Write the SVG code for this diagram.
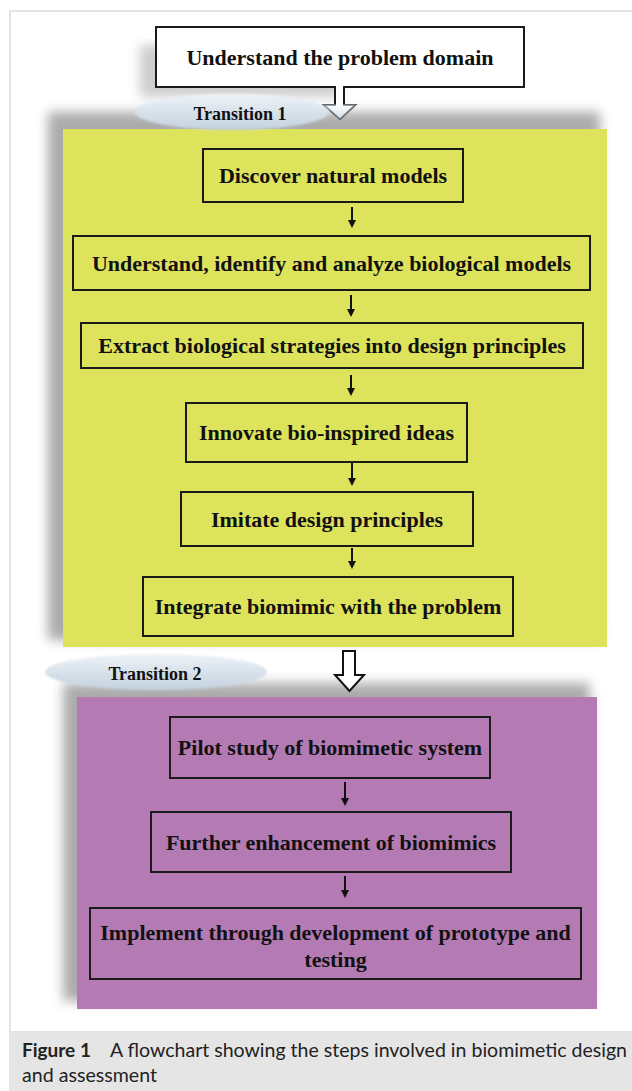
<svg xmlns="http://www.w3.org/2000/svg" width="632" height="1091" viewBox="0 0 632 1091">
<style>
.box{fill:none;stroke:#1a1a1a;stroke-width:2}
.t{font-family:"Liberation Serif","Times New Roman",serif;font-weight:bold;font-size:22px;fill:#111;text-anchor:middle}
.tr{font-size:18px}
.cap{font-family:Lato,"Liberation Sans",sans-serif;font-size:19px;fill:#222}
.conn{stroke:#111;stroke-width:2;fill:none}
.shadow{fill:#8f8f8f;filter:url(#blur)}
</style>
<defs>
<marker id="ah" markerWidth="8" markerHeight="8" refX="4" refY="4" orient="auto" markerUnits="userSpaceOnUse" viewBox="0 0 8 8">
<path d="M0,0 L8,4 L0,8 Z" fill="#111"/>
</marker>
<filter id="blur" x="-10%" y="-10%" width="120%" height="120%"><feGaussianBlur stdDeviation="6"/></filter>
<filter id="soft" x="-10%" y="-30%" width="120%" height="160%"><feGaussianBlur stdDeviation="1.2"/></filter>
<linearGradient id="ell" x1="0" y1="0" x2="0" y2="1">
<stop offset="0" stop-color="#eef3f8"/>
<stop offset="1" stop-color="#c3d1de"/>
</linearGradient>
<linearGradient id="head" x1="0" y1="0" x2="0" y2="1">
<stop offset="0" stop-color="#ffffff"/>
<stop offset="1" stop-color="#d3dde7"/>
</linearGradient>
</defs>

<!-- frame and caption -->
<rect x="10" y="11" width="630" height="1021" fill="#ffffff" stroke="#e3e3e3" stroke-width="2"/>
<rect x="9" y="1032" width="623" height="59" fill="#e5e5e5"/>

<!-- panels -->
<g id="panel-yellow">
<rect class="shadow" x="48" y="112" width="552" height="528" opacity="0.75"/>
<rect x="63" y="129" width="544" height="518" fill="#dee35c"/>
</g>
<g id="panel-purple">
<rect class="shadow" x="63" y="683" width="527" height="318" opacity="0.75"/>
<rect x="77" y="697" width="520" height="312" fill="#b47ab3"/>
</g>

<!-- top node -->
<g id="n-problem">
<rect class="shadow" x="140" y="45" width="200" height="52" opacity="0.45"/>
<path d="M156,27 H524 V87 H344 V105 H355 L340,119 L324,105 H335 V87 H156 Z" fill="#ffffff" stroke="#1a1a1a" stroke-width="2"/>
<path d="M324,105 H355 L340,119 Z" fill="url(#head)" stroke="#7a828a" stroke-width="1.5"/>
<rect x="336" y="86" width="7" height="20" fill="#ffffff"/>
<text class="t" x="340" y="65">Understand the problem domain</text>
</g>

<g id="n-transition1">
<ellipse cx="232" cy="112" rx="97" ry="18" fill="url(#ell)" filter="url(#soft)"/>
<text class="t tr" x="240" y="120">Transition 1</text>
</g>

<g id="n-discover">
<rect class="box" x="203" y="149" width="260" height="53"/>
<text class="t" x="333" y="183">Discover natural models</text>
</g>
<g id="n-understand">
<rect class="box" x="73" y="236" width="517" height="54"/>
<text class="t" x="331.5" y="271">Understand, identify and analyze biological models</text>
</g>
<g id="n-extract">
<rect class="box" x="81" y="323" width="502" height="45"/>
<text class="t" x="332" y="353">Extract biological strategies into design principles</text>
</g>
<g id="n-innovate">
<rect class="box" x="186" y="403" width="281" height="59"/>
<text class="t" x="326.5" y="440">Innovate bio-inspired ideas</text>
</g>
<g id="n-imitate">
<rect class="box" x="181" y="492" width="292" height="54"/>
<text class="t" x="327" y="527">Imitate design principles</text>
</g>
<g id="n-integrate">
<rect class="box" x="143" y="577" width="370" height="59"/>
<text class="t" x="328" y="614">Integrate biomimic with the problem</text>
</g>

<g id="n-transition2">
<ellipse cx="156" cy="672" rx="111" ry="18" fill="url(#ell)" filter="url(#soft)"/>
<text class="t tr" x="155" y="680">Transition 2</text>
</g>

<g id="n-pilot">
<rect class="box" x="170" y="717" width="320" height="61"/>
<text class="t" x="330" y="755">Pilot study of biomimetic system</text>
</g>
<g id="n-further">
<rect class="box" x="151" y="812" width="360" height="60"/>
<text class="t" x="331" y="850">Further enhancement of biomimics</text>
</g>
<g id="n-implement">
<rect class="box" x="90" y="908" width="491" height="71"/>
<text class="t" x="335.5" y="940">Implement through development of prototype and</text>
<text class="t" x="335.5" y="967">testing</text>
</g>

<!-- connectors -->
<g id="connectors">
<line class="conn" x1="352" y1="207" x2="352" y2="224" marker-end="url(#ah)"/>
<line class="conn" x1="351" y1="295" x2="351" y2="313" marker-end="url(#ah)"/>
<line class="conn" x1="351" y1="375" x2="351" y2="392" marker-end="url(#ah)"/>
<line class="conn" x1="352" y1="463" x2="352" y2="482" marker-end="url(#ah)"/>
<line class="conn" x1="352" y1="548" x2="352" y2="565" marker-end="url(#ah)"/>
<path d="M343,651 H355 V675 H364 L349.5,691 L335,675 H343 Z" fill="#ffffff" stroke="#111" stroke-width="2" stroke-linejoin="miter"/>
<line class="conn" x1="345" y1="782" x2="345" y2="802" marker-end="url(#ah)"/>
<line class="conn" x1="345" y1="876" x2="345" y2="894" marker-end="url(#ah)"/>
</g>

<!-- caption -->
<g id="caption">
<text class="cap" x="22" y="1057" font-weight="bold">Figure 1</text>
<text class="cap" x="110" y="1057" textLength="517" lengthAdjust="spacingAndGlyphs">A flowchart showing the steps involved in biomimetic design</text>
<text class="cap" x="22" y="1082" textLength="135" lengthAdjust="spacingAndGlyphs">and assessment</text>
</g>
</svg>
